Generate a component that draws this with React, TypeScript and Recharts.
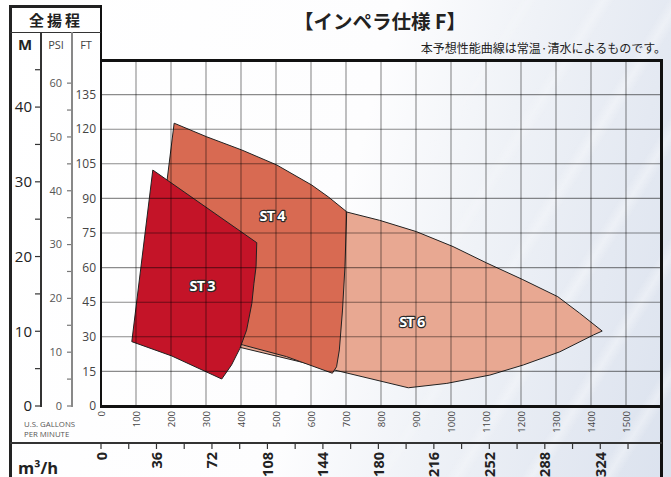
import React from 'react';
import { ComposedChart, Scatter, XAxis, YAxis, CartesianGrid } from 'recharts';

// ---------- data ----------
const gpmTicks = [0, 100, 200, 300, 400, 500, 600, 700, 800, 900, 1000, 1100, 1200, 1300, 1400, 1500];
const m3hTicks = [0, 18, 36, 54, 72, 90, 108, 126, 144, 162, 180, 198, 216, 234, 252, 270, 288, 306, 324, 342];
const m3hLabelStep = 36;
const ftTicks = [0, 15, 30, 45, 60, 75, 90, 105, 120, 135];
const psiTicks = [0, 5, 10, 15, 20, 25, 30, 35, 40, 45, 50, 55, 60];
const mTicks = [0, 5, 10, 15, 20, 25, 30, 35, 40, 45];

const gpmDomain = [0, 1600];
const m3hDomain = [0, 363.4];
const ftDomain = [0, 150];
const psiDomain = [0, 64.3];
const mDomain = [0, 46.3];

// performance regions (U.S. GPM, FT)
const st6 = [
  { gpm: 702, ft: 84.1 }, { gpm: 796, ft: 80.5 }, { gpm: 901, ft: 75.6 }, { gpm: 1006, ft: 69.1 },
  { gpm: 1102, ft: 62.0 }, { gpm: 1205, ft: 54.8 }, { gpm: 1305, ft: 47.4 }, { gpm: 1367, ft: 40.3 },
  { gpm: 1432, ft: 32.5 }, { gpm: 1407, ft: 30.8 }, { gpm: 1311, ft: 23.5 }, { gpm: 1207, ft: 17.8 },
  { gpm: 1111, ft: 13.4 }, { gpm: 988, ft: 9.8 }, { gpm: 878, ft: 7.9 }, { gpm: 354, ft: 27.0 },
  { gpm: 569, ft: 63.3 }, { gpm: 702, ft: 84.1 },
];
const st4 = [
  { gpm: 209, ft: 122.6 }, { gpm: 302, ft: 116.7 }, { gpm: 402, ft: 111.0 }, { gpm: 502, ft: 104.5 },
  { gpm: 602, ft: 95.8 }, { gpm: 650, ft: 90.6 }, { gpm: 702, ft: 84.2 }, { gpm: 697, ft: 60.4 },
  { gpm: 690, ft: 41.6 }, { gpm: 681, ft: 24.3 }, { gpm: 673, ft: 17.0 }, { gpm: 661, ft: 14.2 },
  { gpm: 530, ft: 21.4 }, { gpm: 407, ft: 26.4 }, { gpm: 140, ft: 38.1 }, { gpm: 209, ft: 122.6 },
];
const st3 = [
  { gpm: 148, ft: 102.3 }, { gpm: 445, ft: 70.8 }, { gpm: 443, ft: 60.4 }, { gpm: 437, ft: 53.2 },
  { gpm: 431, ft: 44.5 }, { gpm: 416, ft: 32.9 }, { gpm: 397, ft: 25.0 }, { gpm: 373, ft: 17.8 },
  { gpm: 345, ft: 11.7 }, { gpm: 202, ft: 21.7 }, { gpm: 88, ft: 27.9 }, { gpm: 148, ft: 102.3 },
];
const regionLabels = [
  { gpm: 289, ft: 52.2, name: 'ST 3' },
  { gpm: 489, ft: 82.8, name: 'ST 4' },
  { gpm: 888, ft: 36.6, name: 'ST 6' },
];

const NUM_FONT = "'Open Sans', 'Noto Sans', sans-serif";
const JP_FONT = "'Noto Sans CJK JP', 'Noto Sans', sans-serif";

const NoDot = () => <g />;
const NoTick = () => <g />;

const GpmTick = (props: any) => {
  const { x, y, payload } = props;
  return (
    <text x={x} y={y} transform={`rotate(-90 ${x} ${y})`} textAnchor="end" dominantBaseline="central"
      fontSize={9.5} fill="#444" fontFamily={NUM_FONT}>{payload.value}</text>
  );
};

const M3hTick = (props: any) => {
  const { x, y, payload } = props;
  if (payload.value % m3hLabelStep !== 0) return <g />;
  return (
    <text x={x} y={y} transform={`rotate(-90 ${x} ${y})`} textAnchor="end" dominantBaseline="central"
      fontSize={14.5} fontWeight={700} fill="#222" fontFamily={NUM_FONT}>{payload.value}</text>
  );
};

const RegionLabel = (props: any) => {
  const { cx, cy, payload } = props;
  return (
    <text x={cx} y={cy} textAnchor="middle" dominantBaseline="central" fontSize={14.5} fontWeight={700}
      fill="#fff" stroke="#2a2a2a" strokeWidth={2.4} paintOrder="stroke" strokeLinejoin="round"
      letterSpacing={-0.8} fontFamily={NUM_FONT}>{payload.name}</text>
  );
};

const tens = (v: number) => (v % 10 === 0 ? String(v) : '');

const bar = (left: number, top: number, width: number, height: number, color: string) => (
  <div style={{ position: 'absolute', left, top, width, height, background: color }} />
);

// axes shared by the base chart (visible) and the overlay chart (invisible, same layout)
const axes = (show: boolean) => [
  <XAxis key="x1" xAxisId="x1gpm" dataKey="gpm" type="number" domain={gpmDomain} ticks={gpmTicks} interval={0}
    allowDataOverflow height={37} axisLine={false} tickLine={false} tickSize={0} tickMargin={5}
    tick={show ? <GpmTick /> : <NoTick />} />,
  <XAxis key="x2" xAxisId="x2m3h" dataKey="m3h" type="number" domain={m3hDomain} ticks={m3hTicks} interval={0}
    allowDataOverflow height={34} axisLine={false}
    tickLine={show ? { stroke: '#333', strokeWidth: 1.2 } : false}
    tickSize={6} tickMargin={3} tick={show ? <M3hTick /> : <NoTick />} />,
  <YAxis key="y1" yAxisId="y1ft" dataKey="ft" type="number" domain={ftDomain} ticks={ftTicks} interval={0}
    allowDataOverflow width={29} axisLine={false} tickLine={false} tickSize={0} tickMargin={5}
    tick={show ? { fontSize: 12, fill: '#444', fontFamily: NUM_FONT } : <NoTick />} />,
  <YAxis key="y2" yAxisId="y2psi" dataKey="psi" type="number" domain={psiDomain} ticks={psiTicks} interval={0}
    allowDataOverflow width={31} axisLine={false}
    tickLine={show ? { stroke: '#777', strokeWidth: 1.2 } : false}
    tickSize={5} tickMargin={5} tickFormatter={tens}
    tick={show ? { fontSize: 11, fill: '#555', fontFamily: NUM_FONT } : <NoTick />} />,
  <YAxis key="y3" yAxisId="y3m" dataKey="m" type="number" domain={mDomain} ticks={mTicks} interval={0}
    allowDataOverflow width={41} axisLine={false}
    tickLine={show ? { stroke: '#333', strokeWidth: 1.2 } : false}
    tickSize={6} tickMargin={3} tickFormatter={tens}
    tick={show ? { fontSize: 15, fill: '#222', fontFamily: NUM_FONT } : <NoTick />} />,
];

const chartMargin = { top: 60, right: 10, bottom: 0, left: 0 };

export default function App() {
  return (
    <div style={{ position: 'absolute', left: 0, top: 0, width: 671, height: 477, overflow: 'hidden',
      background: 'linear-gradient(105deg, #ffffff 0%, #fdfdfe 50%, #eff2f7 68%, #e4e9f2 85%, #dbe2ee 100%)' }}>
      <div style={{ position: 'absolute', inset: 0,
        background: 'repeating-linear-gradient(-58deg, rgba(255,255,255,0) 0px, rgba(255,255,255,0) 44px, rgba(255,255,255,0.35) 54px, rgba(255,255,255,0) 64px)',
        maskImage: 'linear-gradient(105deg, transparent 55%, black 80%)',
        WebkitMaskImage: 'linear-gradient(105deg, transparent 55%, black 80%)' }} />
      <div style={{ position: 'absolute', left: 0, top: 0 }}>
        <ComposedChart width={671} height={477} margin={chartMargin}>
          {axes(true)}
          <Scatter xAxisId="x1gpm" yAxisId="y1ft" data={st6} isAnimationActive={false}
            shape={<NoDot />} lineType="joint"
            line={{ fill: '#E8A892', stroke: '#222', strokeWidth: 1 }} />
          <Scatter xAxisId="x1gpm" yAxisId="y1ft" data={st4} isAnimationActive={false}
            shape={<NoDot />} lineType="joint"
            line={{ fill: '#D86A52', stroke: '#222', strokeWidth: 1 }} />
          <Scatter xAxisId="x1gpm" yAxisId="y1ft" data={st3} isAnimationActive={false}
            shape={<NoDot />} lineType="joint"
            line={{ fill: '#C41428', stroke: '#222', strokeWidth: 1 }} />
        </ComposedChart>
      </div>
      <div style={{ position: 'absolute', left: 0, top: 0 }}>
        <ComposedChart width={671} height={477} margin={chartMargin}>
          {axes(false)}
          <CartesianGrid xAxisId="x1gpm" yAxisId="y1ft" stroke="rgba(0,0,0,0.45)" strokeWidth={1.1}
            fill="none" horizontalValues={ftTicks} verticalValues={gpmTicks} />
          <Scatter xAxisId="x1gpm" yAxisId="y1ft" data={regionLabels} isAnimationActive={false}
            shape={<RegionLabel />} />
        </ComposedChart>
      </div>
      {/* frame */}
      {bar(9, 5, 2.5, 472, '#222')}
      {bar(9, 5, 93, 2.5, '#222')}
      {bar(99.5, 5, 2.5, 402.5, '#111')}
      {bar(10, 31.5, 91, 1.8, '#333')}
      {bar(40.2, 32, 1.5, 374.5, '#333')}
      {bar(71.3, 32, 1.5, 374.5, '#888')}
      {bar(99.5, 59, 563.5, 2.5, '#111')}
      {bar(660.3, 59, 2.5, 418, '#111')}
      {bar(99.5, 405, 563.5, 2.5, '#111')}
      {bar(10, 442, 652, 1.5, '#333')}
      <svg width={671} height={477} style={{ position: 'absolute', left: 0, top: 0, pointerEvents: 'none' }}>
        <text x={56} y={26} textAnchor="middle" fontSize={15} fontWeight={700} letterSpacing={3}
          fill="#222" fontFamily={JP_FONT}>全揚程</text>
        <text x={25} y={50} textAnchor="middle" fontSize={15} fontWeight={700} fill="#222"
          fontFamily={NUM_FONT}>M</text>
        <text x={56} y={49} textAnchor="middle" fontSize={11} fill="#444" fontFamily={NUM_FONT}>PSI</text>
        <text x={86} y={49} textAnchor="middle" fontSize={11} fill="#444" fontFamily={NUM_FONT}>FT</text>
        <text x={380} y={29} textAnchor="middle" fontSize={19.5} fontWeight={700} fill="#222"
          fontFamily={JP_FONT}>【インペラ仕様 F】</text>
        <text x={666} y={53} textAnchor="end" fontSize={12} fill="#222" fontFamily={JP_FONT}>
          本予想性能曲線は常温·清水によるものです。</text>
        <text x={24} y={427} fontSize={7.8} fill="#555" fontFamily={NUM_FONT}>U.S. GALLONS</text>
        <text x={24} y={437} fontSize={7.8} fill="#555" fontFamily={NUM_FONT}>PER MINUTE</text>
        <text x={18} y={474} fontSize={16.5} fontWeight={700} fill="#222" fontFamily={NUM_FONT}>m³/h</text>
      </svg>
    </div>
  );
}
